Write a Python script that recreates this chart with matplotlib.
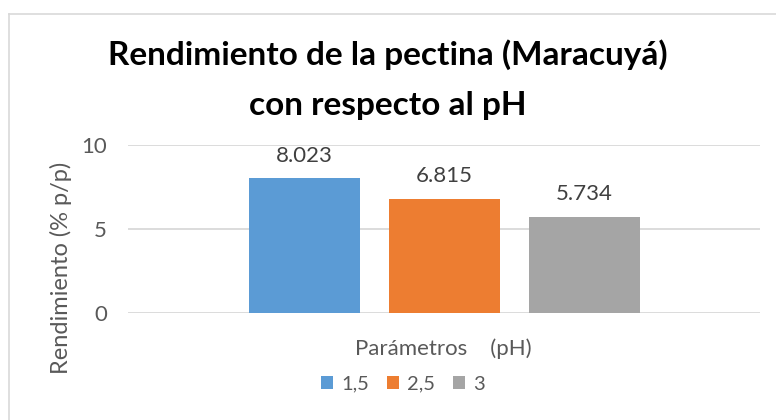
import matplotlib
matplotlib.use("Agg")
import matplotlib.pyplot as plt
from matplotlib.lines import Line2D
from matplotlib.patches import Patch

series = ["1,5", "2,5", "3"]
values = [8.023, 6.815, 5.734]
labels = ["8.023", "6.815", "5.734"]
colors = ["#5B9BD5", "#ED7D31", "#A5A5A5"]
yticks = [0, 5, 10]

plt.rcParams['font.family'] = ['Lato', 'DejaVu Sans']

fig = plt.figure(figsize=(7.76, 4.2), dpi=100)
ax = fig.add_axes([128/776, 1-313/420, 632/776, 168/420])

width = 111/632
step = 140/632
for i, (v, c, lab) in enumerate(zip(values, colors, labels)):
    x = (i - 1) * step
    ax.bar(x, v, width=width, color=c, zorder=3)
    ax.annotate(lab, (x, v), xytext=(0, 9), textcoords="offset points",
                ha="center", va="bottom", fontsize=16, color="#404040")

ax.set_xlim(-0.5, 0.5)
ax.set_ylim(0, 10)
ax.set_yticks(yticks)
ax.set_yticklabels([str(t) for t in yticks])
ax.set_xticks([])
ax.grid(axis="y", color="#D9D9D9", linewidth=1.3, zorder=0)
for s in ax.spines.values():
    s.set_visible(False)
ax.tick_params(axis="y", length=0, labelsize=16, labelcolor="#595959", pad=15)
ax.set_ylabel("Rendimiento (% p/p)", fontsize=17, color="#595959")
ax.yaxis.set_label_coords(-0.088, 0.27)

fig.text(0.5, 1-65/420, "Rendimiento de la pectina (Maracuyá)", ha="center", va="baseline",
         fontsize=24, fontweight="bold", color="black")
fig.text(0.5, 1-115/420, "con respecto al pH", ha="center", va="baseline",
         fontsize=24, fontweight="bold", color="black")

fig.text(443/776, 1-349/420, "Parámetros    (pH)", ha="center", va="center",
         fontsize=16, color="#595959")

handles = [Patch(facecolor=c, edgecolor="none") for c in colors]
leg = fig.legend(handles, series, loc="center", bbox_to_anchor=(403/776, 1-384/420),
                 ncol=3, frameon=False, fontsize=14.5, handlelength=0.6, handleheight=0.6,
                 handletextpad=0.4, columnspacing=0.9)
for t in leg.get_texts():
    t.set_color("#595959")

fig.add_artist(Line2D([9/776, 9/776], [0, 1-14/420], transform=fig.transFigure,
                      color="#D9D9D9", linewidth=1.2))
fig.add_artist(Line2D([9/776, 1], [1-14/420, 1-14/420], transform=fig.transFigure,
                      color="#D9D9D9", linewidth=1.2))

fig.savefig("out.png", dpi=100, facecolor="white")
